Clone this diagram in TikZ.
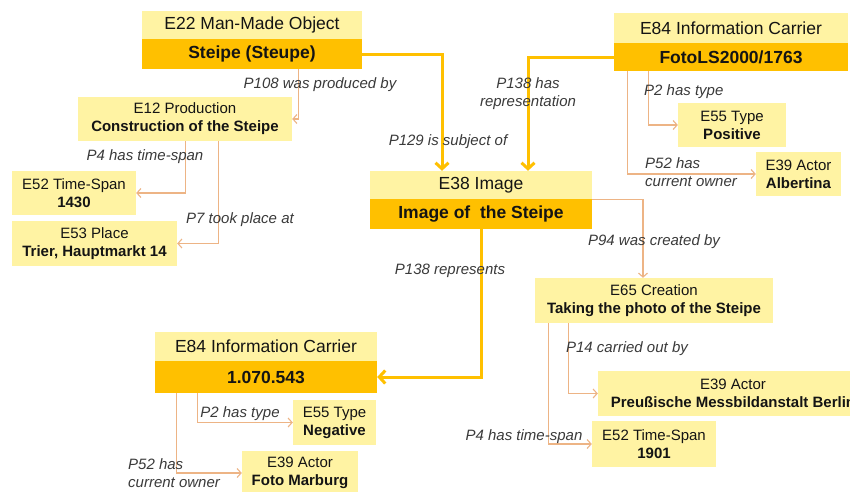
\documentclass[tikz,border=0pt]{standalone}
\usepackage{fontspec}
\setmainfont{Liberation Sans}
\usetikzlibrary{arrows.meta,calc}
\definecolor{paleyellow}{HTML}{FFF3A3}
\definecolor{gold}{HTML}{FFC000}
\definecolor{tanline}{HTML}{EDB485}
\definecolor{labelgray}{HTML}{3A3A3A}
\definecolor{inktext}{HTML}{141414}

\begin{document}
\begin{tikzpicture}[x=1pt,y=-1pt,
  classbox/.style={fill=paleyellow, inner sep=0pt, align=center, text=inktext,
    font=\fontsize{15}{18}\selectfont},
  headbox/.style={fill=paleyellow, inner sep=0pt, text=inktext,
    font=\fontsize{17.5}{21}\selectfont},
  namebox/.style={fill=gold, inner sep=0pt, text=inktext,
    font=\fontsize{17.5}{21}\selectfont\bfseries},
  mainlink/.style={draw=gold, line width=3pt, -{Straight Barb[length=6pt,width=13pt]}},
  sidelink/.style={draw=tanline, line width=1.1pt, -{Straight Barb[length=4pt,width=9pt]}},
  rellabel/.style={font=\fontsize{15}{18}\selectfont\itshape, text=labelgray,
    inner sep=0pt, align=left},
]
\useasboundingbox (0,0) rectangle (850,491);
\clip (0,0) rectangle (850,491);
\fill[white] (0,0) rectangle (850,491);

% ---- main entities: class header above a named instance ----
\node[headbox, minimum width=220pt, minimum height=28pt] (e22h) at (252,25) {E22 Man-Made Object};
\node[namebox, minimum width=220pt, minimum height=30pt] (e22d) at (252,54) {Steipe (Steupe)};

\node[headbox, minimum width=234pt, minimum height=30pt] (e84ah) at (731,28) {E84 Information Carrier};
\node[namebox, minimum width=234pt, minimum height=28pt] (e84ad) at (731,57) {FotoLS2000/1763};

\node[headbox, minimum width=222pt, minimum height=28pt] (e38h) at (481,185) {E38 Image};
\node[namebox, minimum width=222pt, minimum height=30pt] (e38d) at (481,214) {Image of\ \ the Steipe};

\node[headbox, minimum width=222pt, minimum height=29pt] (e84bh) at (266,346.5) {E84 Information Carrier};
\node[namebox, minimum width=222pt, minimum height=32pt] (e84bd) at (266,377) {1.070.543};

% ---- secondary entities ----
\node[classbox, minimum width=214pt, minimum height=44pt] (e12) at (185,119)
  {E12 Production\\\textbf{Construction of the Steipe}};
\node[classbox, minimum width=124pt, minimum height=44pt] (e52a) at (74,193)
  {E52 Time-Span\\\textbf{1430}};
\node[classbox, minimum width=165pt, minimum height=45pt] (e53) at (94.5,243.5)
  {E53 Place\\\textbf{Trier, Hauptmarkt 14}};
\node[classbox, minimum width=108pt, minimum height=44pt] (e55a) at (732,125)
  {E55 Type\\\textbf{Positive}};
\node[classbox, minimum width=85pt, minimum height=44pt] (e39a) at (798.5,174)
  {E39 Actor\\\textbf{Albertina}};
\node[classbox, minimum width=238pt, minimum height=45pt] (e65) at (654,300.5)
  {E65 Creation\\\textbf{Taking the photo of the Steipe}};
\node[classbox, minimum width=270pt, minimum height=45pt] (e39b) at (733,393.5)
  {E39 Actor\\\textbf{Preußische Messbildanstalt Berlin}};
\node[classbox, minimum width=124pt, minimum height=46pt] (e52b) at (654,444)
  {E52 Time-Span\\\textbf{1901}};
\node[classbox, minimum width=83pt, minimum height=45pt] (e55b) at (334.5,422.5)
  {E55 Type\\\textbf{Negative}};
\node[classbox, minimum width=116pt, minimum height=44pt] (e39c) at (300,473)
  {E39 Actor\\\textbf{Foto Marburg}};

% ---- main links ----
\draw[mainlink] (e22d.east) -| ([xshift=-39pt]e38h.north);
\draw[mainlink] (e84ad.west) -| ([xshift=47pt]e38h.north);
\draw[mainlink] (e38d.south) |- (e84bd.east);

% ---- secondary links ----
\draw[sidelink] ([xshift=157pt]e22d.south west) |- (e12.east);
\draw[sidelink] ([xshift=108pt]e12.south west) |- (e52a.east);
\draw[sidelink] ([xshift=141pt]e12.south west) |- (e53.east);
\draw[sidelink] (e38h.south east) -| ([xshift=-11pt]e65.north);
\draw[sidelink] ([xshift=35pt]e84ad.south west) |- (e55a.west);
\draw[sidelink] ([xshift=14pt]e84ad.south west) |- (e39a.west);
\draw[sidelink] ([xshift=34pt]e65.south west) |- (e39b.west);
\draw[sidelink] ([xshift=14pt]e65.south west) |- (e52b.west);
\draw[sidelink] ([xshift=43pt]e84bd.south west) |- (e55b.west);
\draw[sidelink] ([xshift=22pt]e84bd.south west) |- (e39c.west);

% ---- property labels ----
\node[rellabel] (l108) at (320,85) {P108 was produced by};
\node[rellabel] (l129) at (448,142) {P129 is subject of};
\node[rellabel, align=center] (l138a) at (528,94) {P138 has\\representation};
\node[rellabel, anchor=west] (l2a) at (644,92) {P2 has type};
\node[rellabel, anchor=west] (l52a) at (645,172) {P52 has\\current owner};
\node[rellabel] (l94) at (654,242) {P94 was created by};
\node[rellabel] (l138b) at (450,271) {P138 represents};
\node[rellabel] (l4a) at (145,157) {P4 has time-span};
\node[rellabel] (l7) at (240,220) {P7 took place at};
\node[rellabel] (l14) at (627,349) {P14 carried out by};
\node[rellabel] (l4b) at (524,437) {P4 has time-span};
\node[rellabel] (l2b) at (240,414) {P2 has type};
\node[rellabel, anchor=west] (l52b) at (128,473) {P52 has\\current owner};
\end{tikzpicture}
\end{document}
